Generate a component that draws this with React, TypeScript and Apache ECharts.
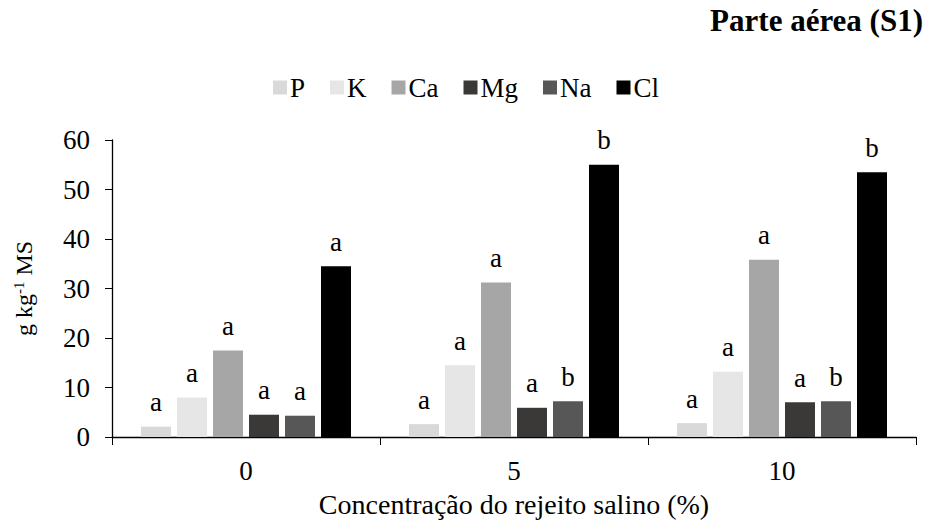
import React, { useEffect, useRef } from "react";
import * as echarts from "echarts";

const categories = ["0", "5", "10"];
const seriesNames = ["P", "K", "Ca", "Mg", "Na", "Cl"];
const P = [2.1, 2.6, 2.8];
const K = [8.0, 14.5, 13.2];
const Ca = [17.5, 31.2, 35.8];
const Mg = [4.5, 5.9, 7.0];
const Na = [4.3, 7.2, 7.2];
const Cl = [34.5, 55.0, 53.5];
const letters = [
  ["a", "a", "a"],
  ["a", "a", "a"],
  ["a", "a", "a"],
  ["a", "a", "a"],
  ["a", "b", "b"],
  ["a", "b", "b"],
];
const colors = ["#d9d9d9", "#e6e6e6", "#a6a6a6", "#3b3838", "#575757", "#000000"];
const FONT = "Liberation Serif";

export default function App() {
  const ref = useRef<HTMLDivElement>(null);
  useEffect(() => {
    if (!ref.current) return;
    const chart = echarts.init(ref.current, null, { renderer: "svg" });
    const values = [P, K, Ca, Mg, Na, Cl];
    chart.setOption({
      animation: false,
      backgroundColor: "#ffffff",
      title: {
        text: "Parte aérea (S1)",
        right: 4,
        top: 0,
        textStyle: { fontFamily: FONT, fontSize: 31, fontWeight: "bold", color: "#000" },
      },
      legend: {
        data: seriesNames,
        top: 69,
        left: "center",
        itemWidth: 14,
        itemHeight: 14,
        itemGap: 25,
        icon: "rect",
        textStyle: { fontFamily: FONT, fontSize: 27, color: "#000", padding: [0, 0, 0, -2] },
      },
      grid: { left: 112, right: 16, top: 140, bottom: 94, outerBoundsMode: "none", containLabel: false },
      xAxis: {
        type: "category",
        data: categories,
        name: "Concentração do rejeito salino (%)",
        nameLocation: "middle",
        nameGap: 53,
        nameTextStyle: { fontFamily: FONT, fontSize: 28, color: "#000" },
        axisLine: { lineStyle: { color: "#000", width: 1.3 } },
        axisTick: { show: true, length: 8, lineStyle: { color: "#000" } },
        axisLabel: { fontFamily: FONT, fontSize: 27, color: "#000", margin: 20 },
      },
      yAxis: {
        type: "value",
        min: 0,
        max: 60,
        interval: 10,
        name: "{n|g kg}{s|-1}{n| MS}",
        nameLocation: "middle",
        nameGap: 76,
        nameRotate: 90,
        nameTextStyle: {
          rich: {
            n: { fontFamily: FONT, fontSize: 24, color: "#000" },
            s: { fontFamily: FONT, fontSize: 15, color: "#000", verticalAlign: "top", padding: [0, 0, 10, 0] },
          },
        },
        splitLine: { show: false },
        axisLine: { show: true, lineStyle: { color: "#000", width: 1.3 } },
        axisTick: { show: true, length: 7, lineStyle: { color: "#000" } },
        axisLabel: { fontFamily: FONT, fontSize: 27, color: "#000", margin: 22 },
      },
      series: seriesNames.map((name, i) => ({
        name,
        type: "bar",
        data: values[i],
        barWidth: 30,
        barGap: "20%",
        itemStyle: { color: colors[i] },
        label: {
          show: true,
          position: "top",
          distance: 11,
          fontFamily: FONT,
          fontSize: 27,
          color: "#000",
          formatter: (p: any) => letters[i][p.dataIndex],
        },
      })),
    });
    return () => chart.dispose();
  }, []);
  return <div ref={ref} style={{ width: 932, height: 531, margin: -8 }} />;
}
